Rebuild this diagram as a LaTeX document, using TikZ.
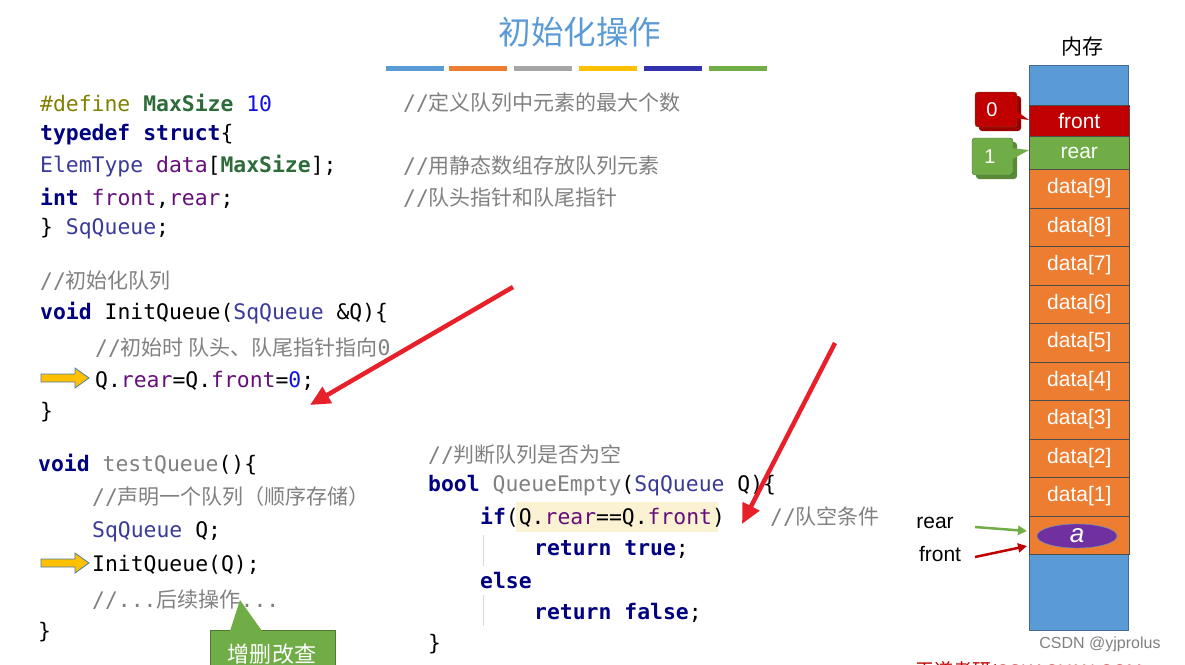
\documentclass[tikz,border=0pt]{standalone}
\usepackage{fontspec}
\setmainfont{Liberation Sans}
\setmonofont{DejaVu Sans Mono}[Scale=1.07]
\newfontfamily\cjk{Noto Sans CJK SC}[Scale=1.05]
\usetikzlibrary{shapes.geometric,arrows.meta}
\definecolor{kw}{HTML}{000080}
\definecolor{cm}{HTML}{808080}
\definecolor{pp}{HTML}{660E7A}
\definecolor{df}{HTML}{808000}
\definecolor{ms}{HTML}{2E6B3A}
\definecolor{nb}{HTML}{1010E0}
\definecolor{ty}{HTML}{3A3A9A}
\definecolor{mblue}{HTML}{5B9BD5}
\definecolor{morange}{HTML}{ED7D31}
\definecolor{mred}{HTML}{C00000}
\definecolor{mgreen}{HTML}{70AD47}
\definecolor{mpurple}{HTML}{7030A0}
\definecolor{arr}{HTML}{E8202A}
\definecolor{hl}{HTML}{FBF2D3}
\definecolor{yarr}{HTML}{FFC000}
\newcommand{\K}[1]{\textcolor{kw}{\bfseries #1}}
\newcommand{\Cm}[1]{\textcolor{cm}{#1}}
\newcommand{\Cj}[1]{\textcolor{cm}{{\cjk #1}}}
\newcommand{\Pp}[1]{\textcolor{pp}{#1}}
\tikzset{
 code/.style={anchor=west,inner sep=0pt,font=\ttfamily\fontsize{20}{22}\selectfont},
 cell/.style={draw=black!70,line width=0.6pt,minimum width=100pt,anchor=north west,inner sep=0pt,text=white,font=\fontsize{21}{22}\selectfont},
 redarr/.style={draw=arr,line width=4.5pt,-{Triangle[length=20pt,width=18pt]}},
 ptr/.style={line width=2.5pt,-{Triangle[length=9pt,width=9pt]}}
}
\newcommand{\blockarrow}[2]{\filldraw[fill=yarr,draw=mblue!80!black,line width=0.8pt] (#1,#2-4) -- (#1+34,#2-4) -- (#1+34,#2-10) -- (#1+48,#2) -- (#1+34,#2+10) -- (#1+34,#2+4) -- (#1,#2+4) -- cycle;}
\begin{document}
\begin{tikzpicture}[x=1pt,y=-1pt]
\useasboundingbox (0,0) rectangle (1185,664);
\clip (0,0) rectangle (1185,664);
\node (title) at (580,32) {\cjk\fontsize{31}{34}\selectfont\textcolor{mblue}{初始化操作}};
\foreach \a/\c in {386/mblue,449/morange,514/gray!70,579/yarr,644/blue!60!black!80,709/mgreen}
  \fill[\c] (\a,66) rectangle ++(58,5);
% left code
\node[code] (l1) at (40,103) {\textcolor{df}{\#define} \textcolor{ms}{\bfseries MaxSize} \textcolor{nb}{10}};
\node[code] (l2) at (40,135) {\K{typedef struct}\{};
\node[code] (l3) at (40,166) {\textcolor{ty}{ElemType} \Pp{data}[\textcolor{ms}{\bfseries MaxSize}];};
\node[code] (l4) at (40,198) {\K{int} \Pp{front},\Pp{rear};};
\node[code] (l5) at (40,229) {\} \textcolor{ty}{SqQueue};};
\node[code] (c1) at (403,103) {\Cm{//}\Cj{定义队列中元素的最大个数}};
\node[code] (c2) at (403,166) {\Cm{//}\Cj{用静态数组存放队列元素}};
\node[code] (c3) at (403,198) {\Cm{//}\Cj{队头指针和队尾指针}};
\node[code] (l6) at (40,281) {\Cm{//}\Cj{初始化队列}};
\node[code] (l7) at (40,313) {\K{void} InitQueue(\textcolor{ty}{SqQueue} \&Q)\{};
\node[code] (l8) at (95,348) {\Cm{//}\Cj{初始时 队头、队尾指针指向}\Cm{0}};
\node[code] (l9) at (95,381) {Q.\Pp{rear}=Q.\Pp{front}=\textcolor{nb}{0};};
\node[code] (l10) at (40,412) {\}};
\blockarrow{41}{378}
\node[code] (t1) at (38,465) {\K{void} \Cm{testQueue}()\{};
\node[code] (t2) at (92,497) {\Cm{//}\Cj{声明一个队列（顺序存储）}};
\node[code] (t3) at (92,532) {\textcolor{ty}{SqQueue} Q;};
\node[code] (t4) at (92,565) {InitQueue(Q);};
\node[code] (t5) at (92,600) {\Cm{//...}\Cj{后续操作}\Cm{...}};
\node[code] (t6) at (38,632) {\}};
\blockarrow{41}{563}
% right code
\fill[hl] (516,502) rectangle (718,532);
\draw[black!15] (483,535) -- (483,566) (483,595) -- (483,626);
\node[code] (r1) at (428,455) {\Cm{//}\Cj{判断队列是否为空}};
\node[code] (r2) at (428,486) {\K{bool} \Cm{QueueEmpty}(\textcolor{ty}{SqQueue} Q)\{};
\node[code] (r3) at (480,517) {\K{if}(Q.\Pp{rear}==Q.\Pp{front})};
\node[code] (r3c) at (770,517) {\Cm{//}\Cj{队空条件}};
\node[code] (r4) at (534,549) {\K{return true};};
\node[code] (r5) at (480,581) {\K{else}};
\node[code] (r6) at (534,613) {\K{return false};};
\node[code] (r7) at (428,644) {\}};
% red arrows
\coordinate (a1s) at (513,287); \coordinate (a1e) at (310,405);
\coordinate (a2s) at (835,343); \coordinate (a2e) at (742,524);
\draw[redarr] (a1s) -- (a1e);
\draw[redarr] (a2s) -- (a2e);
% callout
\fill[mgreen,draw=mgreen!70!black] (210,630) rectangle (335,680);
\fill[mgreen] (230,631) -- (240,600) -- (262,631) -- cycle;
\node[text=white,font=\cjk\fontsize{21}{22}\selectfont] (zs) at (272,654) {增删改查};
% memory
\node (mem) at (1082,47) {\cjk\fontsize{20}{22}\selectfont 内存};
\fill[mblue,draw=mblue!70!black] (1029,65) rectangle (1128,630);
\node[cell,fill=mred,minimum height=31pt] (front) at (1029,105) {front};
\node[cell,fill=mgreen,minimum height=33pt] (rear) at (1029,136) {rear};
\foreach \i [count=\k from 0] in {9,8,7,6,5,4,3,2,1}
  \node[cell,fill=morange,minimum height=38.5pt] (d\i) at (1029,169+38.5*\k) {data[\i]};
\node[cell,fill=morange,minimum height=38.5pt] (d0) at (1029,515.5) {};
\node[ellipse,fill=mpurple,draw=mblue,minimum width=80pt,minimum height=24pt,inner sep=0pt,text=white,font=\itshape\fontsize{26}{26}\selectfont] (ea) at (1077,536) {a};
% value callouts
\fill[mred!80!black,rounded corners=3pt] (979,96) rectangle (1021,131);
\fill[mred,draw=mgreen!60!black,rounded corners=3pt] (975,92) rectangle (1017,127);
\fill[mred] (1015,110) -- (1029,120) -- (1015,118) -- cycle;
\node[text=white,font=\fontsize{20}{22}\selectfont] (v0) at (992,110) {0};
\fill[mgreen!80!black,rounded corners=3pt] (976,142) rectangle (1017,179);
\fill[mgreen,draw=mgreen!60!black,rounded corners=3pt] (972,138) rectangle (1013,175);
\fill[mgreen] (1011,148) -- (1029,150) -- (1011,160) -- cycle;
\node[text=white,font=\fontsize{20}{22}\selectfont] (v1) at (990,157) {1};
% pointers
\node[font=\fontsize{21}{22}\selectfont] (rl) at (935,523) {rear};
\node[font=\fontsize{21}{22}\selectfont] (fl) at (940,554) {front};
\draw[ptr,mgreen] (975,527) -- (1027,531);
\draw[ptr,mred] (975,557) -- (1027,546);
\node[text=gray,font=\fontsize{16}{18}\selectfont] (csdn) at (1100,644) {CSDN @yjprolus};
\node[text=mred,anchor=west,font=\fontsize{18}{20}\selectfont] (wd) at (912,670) {{\cjk 王道考研}/CSKAOYAN.COM};
\end{tikzpicture}
\end{document}
